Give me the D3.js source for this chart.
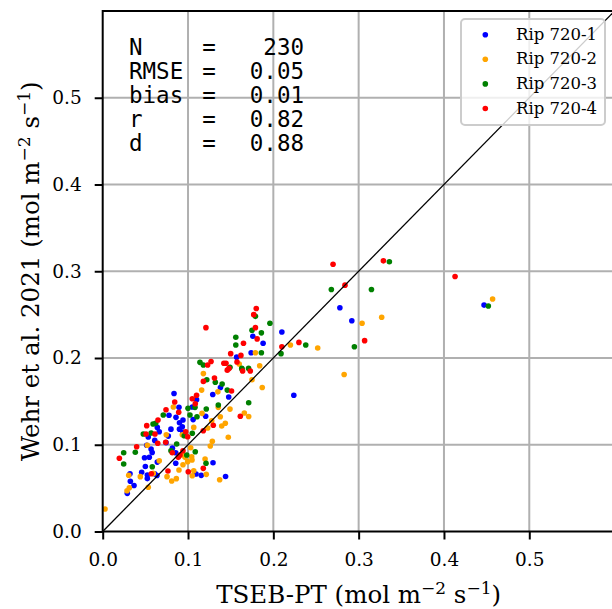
<!DOCTYPE html>
<html><head><meta charset="utf-8">
<script src="https://cdn.jsdelivr.net/npm/d3@7"></script>
<style>body{margin:0;background:#fff}svg{display:block}</style>
</head><body>
<script>
const seriesNames = ["Rip 720-1","Rip 720-2","Rip 720-3","Rip 720-4"];
const seriesColors = ["#0000ff","#ffa500","#008000","#ff0000"];
const ticks = [0,0.1,0.2,0.3,0.4,0.5];
const statLabels = ["N","RMSE","bias","r","d"];
const statValues = ["230","0.05","0.01","0.82","0.88"];

const rip1 = [[0.447,0.261],[0.278,0.258],[0.292,0.243],[0.210,0.230],[0.224,0.157],[0.176,0.225],[0.188,0.217],[0.174,0.206],[0.157,0.201],[0.138,0.166],[0.129,0.158],[0.0836,0.159],[0.1477,0.155],[0.0894,0.1431],[0.0777,0.134],[0.0859,0.1316],[0.0941,0.1285],[0.064,0.120],[0.110,0.152],[0.105,0.1435],[0.106,0.129],[0.1207,0.1328],[0.080,0.118],[0.0663,0.115],[0.0534,0.109],[0.0769,0.110],[0.0933,0.1208],[0.0941,0.1143],[0.090,0.118],[0.090,0.1254],[0.0516,0.0994],[0.0742,0.1024],[0.0817,0.0961],[0.0856,0.0907],[0.049,0.085],[0.0546,0.0856],[0.058,0.091],[0.0567,0.095],[0.050,0.075],[0.064,0.080],[0.0457,0.0682],[0.0523,0.065],[0.061,0.0665],[0.0636,0.0645],[0.0523,0.061],[0.032,0.0666],[0.0324,0.058],[0.0367,0.053],[0.0288,0.044],[0.1094,0.0662],[0.1155,0.0647],[0.1293,0.0793],[0.144,0.0634],[0.0856,0.0786],[0.061,0.105]];
const rip2 = [[0.457,0.268],[0.304,0.240],[0.327,0.247],[0.252,0.2115],[0.283,0.181],[0.220,0.215],[0.179,0.206],[0.184,0.191],[0.175,0.175],[0.187,0.166],[0.160,0.193],[0.135,0.161],[0.118,0.182],[0.116,0.163],[0.1492,0.1411],[0.166,0.1366],[0.1711,0.1326],[0.0828,0.1435],[0.1278,0.1277],[0.1378,0.1323],[0.1395,0.1216],[0.1437,0.1247],[0.1164,0.1362],[0.1067,0.120],[0.1231,0.1193],[0.1472,0.1086],[0.1285,0.104],[0.1261,0.0986],[0.0523,0.0994],[0.0745,0.1116],[0.0933,0.1116],[0.1031,0.0966],[0.0933,0.0885],[0.1043,0.0862],[0.1047,0.0824],[0.0663,0.0816],[0.0441,0.0632],[0.0305,0.0648],[0.0312,0.0505],[0.0285,0.047],[0.0534,0.051],[0.0894,0.0709],[0.0754,0.0632],[0.0809,0.0582],[0.0863,0.0609],[0.1067,0.0701],[0.105,0.0643],[0.1214,0.0659],[0.120,0.0836],[0.1371,0.0597],[0.0996,0.0805],[0.0027,0.026],[0.0593,0.067],[0.0965,0.0855],[0.0941,0.077],[0.1355,0.1431]];
const rip3 = [[0.452,0.260],[0.336,0.311],[0.268,0.279],[0.315,0.279],[0.295,0.213],[0.238,0.215],[0.179,0.248],[0.196,0.240],[0.175,0.232],[0.186,0.229],[0.156,0.224],[0.156,0.215],[0.209,0.205],[0.186,0.206],[0.171,0.188],[0.163,0.188],[0.146,0.163],[0.114,0.195],[0.118,0.192],[0.122,0.175],[0.132,0.172],[0.1492,0.1893],[0.1711,0.1485],[0.071,0.1343],[0.1082,0.1431],[0.1105,0.1323],[0.1214,0.1412],[0.059,0.1239],[0.0476,0.1124],[0.105,0.1132],[0.0956,0.1104],[0.0867,0.1009],[0.080,0.0931],[0.1085,0.092],[0.0985,0.0882],[0.0246,0.0908],[0.0382,0.0913],[0.0246,0.0778],[0.0581,0.0747],[0.1211,0.0786],[0.0621,0.1247],[0.1023,0.1343],[0.1355,0.1458],[0.1633,0.1873],[0.0568,0.1135],[0.1,0.142],[0.14,0.17]];
const rip4 = [[0.270,0.308],[0.329,0.312],[0.413,0.294],[0.284,0.284],[0.307,0.220],[0.121,0.235],[0.180,0.257],[0.177,0.250],[0.179,0.235],[0.181,0.222],[0.165,0.217],[0.210,0.213],[0.230,0.218],[0.150,0.205],[0.162,0.203],[0.173,0.185],[0.164,0.185],[0.148,0.188],[0.146,0.186],[0.142,0.194],[0.1445,0.194],[0.151,0.162],[0.123,0.192],[0.127,0.196],[0.118,0.173],[0.131,0.177],[0.110,0.157],[0.105,0.153],[0.1574,0.1954],[0.1085,0.1473],[0.0844,0.1493],[0.0742,0.1404],[0.0891,0.1374],[0.0648,0.1285],[0.0516,0.122],[0.1613,0.1328],[0.1296,0.1224],[0.0508,0.1124],[0.0613,0.1124],[0.0973,0.115],[0.0996,0.1093],[0.1179,0.1162],[0.0398,0.0977],[0.0645,0.1017],[0.0816,0.0908],[0.0941,0.0931],[0.0906,0.0882],[0.0886,0.0855],[0.0195,0.0844],[0.057,0.0666],[0.0765,0.0697],[0.1003,0.0689],[0.1179,0.0728],[0.0738,0.1028]];
const allSeries = [rip1, rip2, rip3, rip4];

const W = 612, H = 609;
const svg = d3.select("body").append("svg").attr("width", W).attr("height", H);
const x = d3.scaleLinear().domain([0, 0.6]).range([102.7, 614.6]);
const y = d3.scaleLinear().domain([0, 0.6]).range([531.5, 11]);
const serif = "'DejaVu Serif', serif";

// grid
const grid = svg.append("g");
grid.selectAll("line.v").data(ticks.filter(t => t > 0)).join("line")
  .attr("x1", d => x(d)).attr("x2", d => x(d)).attr("y1", y(0)).attr("y2", y(0.6))
  .attr("stroke", "#b0b0b0").attr("stroke-width", 2);
grid.selectAll("line.h").data(ticks.filter(t => t > 0)).join("line")
  .attr("y1", d => y(d)).attr("y2", d => y(d)).attr("x1", x(0)).attr("x2", x(0.6))
  .attr("stroke", "#b0b0b0").attr("stroke-width", 2);

// points
allSeries.forEach((s, i) => {
  svg.append("g").selectAll("circle").data(s).join("circle")
    .attr("cx", d => x(d[0])).attr("cy", d => y(d[1])).attr("r", 2.8)
    .attr("fill", seriesColors[i]);
});

// 1:1 line
svg.append("line").attr("x1", x(0)).attr("y1", y(0)).attr("x2", x(0.6)).attr("y2", y(0.6))
  .attr("stroke", "#000").attr("stroke-width", 1.3);

// axes
const fmt = d3.format(".1f");
const xAxis = svg.append("g").attr("transform", `translate(0,${y(0)})`)
  .call(d3.axisBottom(x).tickValues(ticks).tickFormat(fmt).tickSize(8).tickSizeOuter(0).tickPadding(13));
const yAxis = svg.append("g").attr("transform", `translate(${x(0)},0)`)
  .call(d3.axisLeft(y).tickValues(ticks).tickFormat(fmt).tickSize(8).tickSizeOuter(0).tickPadding(13));
[xAxis, yAxis].forEach(a => {
  a.select(".domain").remove();
  a.selectAll(".tick line").attr("stroke", "#000").attr("stroke-width", 2);
  a.selectAll(".tick text").attr("fill", "#000").style("font-family", serif).style("font-size", "18.5px");
});

// frame
svg.append("rect").attr("x", x(0)).attr("y", y(0.6)).attr("width", x(0.6) - x(0)).attr("height", y(0) - y(0.6))
  .attr("fill", "none").attr("stroke", "#000").attr("stroke-width", 2);

// axis labels
function unitLabel(sel, base) {
  sel.append("tspan").text(base + " (mol m");
  sel.append("tspan").attr("dy", -9).style("font-size", "17px").text("−2");
  sel.append("tspan").attr("dy", 9).text(" s");
  sel.append("tspan").attr("dy", -9).style("font-size", "17px").text("−1");
  sel.append("tspan").attr("dy", 9).text(")");
}
const xl = svg.append("text").attr("x", (x(0) + x(0.6)) / 2).attr("y", 603)
  .attr("text-anchor", "middle").style("font-family", serif).style("font-size", "24.5px");
unitLabel(xl, "TSEB-PT");
const yl = svg.append("text").attr("transform", `translate(39,${(y(0) + y(0.6)) / 2}) rotate(-90)`)
  .attr("text-anchor", "middle").style("font-family", serif).style("font-size", "24.5px");
unitLabel(yl, "Wehr et al. 2021");

// stats text
const st = svg.append("g").style("font-family", "'DejaVu Sans Mono', monospace").style("font-size", "22.5px");
statLabels.forEach((l, i) => {
  const by = 55 + i * 24;
  st.append("text").attr("x", 129).attr("y", by).text(l);
  st.append("text").attr("x", 209).attr("y", by).attr("text-anchor", "middle").text("=");
  st.append("text").attr("x", 304).attr("y", by).attr("text-anchor", "end").text(statValues[i]);
});

// legend
const lg = svg.append("g");
lg.append("rect").attr("x", 461).attr("y", 19).attr("width", 144).attr("height", 106).attr("rx", 4)
  .attr("fill", "#fff").attr("fill-opacity", 0.8).attr("stroke", "#cccccc").attr("stroke-width", 2);
seriesNames.forEach((n, i) => {
  const cy = 34.7 + i * 24.6;
  lg.append("circle").attr("cx", 485.3).attr("cy", cy).attr("r", 2.8).attr("fill", seriesColors[i]);
  lg.append("text").attr("x", 516).attr("y", cy + 5).style("font-family", serif).style("font-size", "16.5px").text(n);
});
</script>
</body></html>
